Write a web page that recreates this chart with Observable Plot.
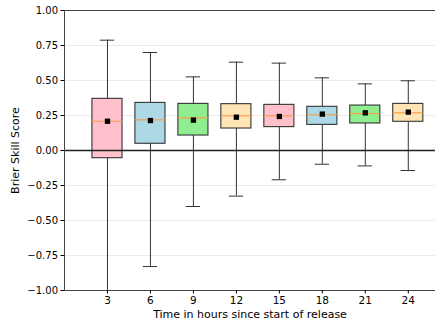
<!DOCTYPE html>
<html>
<head>
<meta charset="utf-8">
<script src="https://cdn.jsdelivr.net/npm/d3@7"></script>
<script src="https://cdn.jsdelivr.net/npm/@observablehq/plot@0.6"></script>
<style>
  html, body { margin: 0; padding: 0; background: #fff; }
</style>
</head>
<body>
<div id="chart"></div>
<script>
const hours   = [3, 6, 9, 12, 15, 18, 21, 24];
const whiskLo = [-1.00, -0.829, -0.40, -0.326, -0.209, -0.098, -0.11, -0.143];
const q1      = [-0.055, 0.048, 0.107, 0.157, 0.167, 0.183, 0.193, 0.205];
const medians = [0.209, 0.219, 0.233, 0.248, 0.248, 0.255, 0.264, 0.269];
const q3      = [0.369, 0.340, 0.333, 0.331, 0.326, 0.312, 0.321, 0.333];
const whiskHi = [0.788, 0.70, 0.526, 0.631, 0.624, 0.519, 0.476, 0.498];
const means   = [0.209, 0.214, 0.217, 0.238, 0.243, 0.260, 0.269, 0.274];
const boxColors = ["#ffc0cb", "#add8e6", "#90ee90", "#ffe4b5", "#ffc0cb", "#add8e6", "#90ee90", "#ffe4b5"];
const yTicks = [-1, -0.75, -0.5, -0.25, 0, 0.25, 0.5, 0.75, 1];

const halfBox = 1.05, halfCap = 0.5;
const data = hours.map((h, i) => ({
  h, lo: whiskLo[i], q1: q1[i], med: medians[i], q3: q3[i], hi: whiskHi[i], mean: means[i], color: boxColors[i],
  x1: h - halfBox, x2: h + halfBox, c1: h - halfCap, c2: h + halfCap
}));

const fmt = d => (d < 0 ? "\u2212" : "") + Math.abs(d).toFixed(2);

const chart = Plot.plot({
  width: 435,
  height: 324,
  marginLeft: 64,
  marginRight: 0,
  marginTop: 10,
  marginBottom: 34,
  style: { fontFamily: "DejaVu Sans", fontSize: "10px", color: "#000", background: "#fff" },
  x: { domain: [0, 25.9], ticks: hours, label: null },
  y: { domain: [-1, 1], ticks: yTicks, label: null },
  marks: [
    Plot.ruleY(yTicks.filter(d => d !== 0 && d !== 1 && d !== -1), { stroke: "#e6e6e6", strokeWidth: 0.8 }),
    Plot.ruleX(data, { x: "h", y1: "lo", y2: "hi", stroke: "#333", strokeWidth: 1 }),
    Plot.ruleY(data, { y: "lo", x1: "c1", x2: "c2", stroke: "#333", strokeWidth: 1 }),
    Plot.ruleY(data, { y: "hi", x1: "c1", x2: "c2", stroke: "#333", strokeWidth: 1 }),
    Plot.rect(data, { x1: "x1", x2: "x2", y1: "q1", y2: "q3", fill: "color", stroke: "#333", strokeWidth: 1.1 }),
    Plot.ruleY(data, { y: "med", x1: "x1", x2: "x2", stroke: "#f5a050", strokeWidth: 1.2 }),
    Plot.ruleY([0], { stroke: "#222", strokeWidth: 1.5 }),
    Plot.dot(data, { x: "h", y: "mean", symbol: "square", fill: "#000", stroke: "none", r: 3 }),
    Plot.ruleY([1], { stroke: "#444", strokeWidth: 1 }),
    Plot.ruleY([-1], { stroke: "#444", strokeWidth: 1 }),
    Plot.ruleX([0], { stroke: "#444", strokeWidth: 1 }),
    Plot.axisY({ ticks: yTicks, tickFormat: fmt, tickSize: 3.5, tickPadding: 3, label: null, fontSize: 10 }),
    Plot.axisX({ ticks: hours, tickSize: 3.5, tickPadding: 3, label: null, fontSize: 10.5 }),
    Plot.axisY({ ticks: [], label: "Brier Skill Score", labelAnchor: "center", labelArrow: "none", labelOffset: 53, fontSize: 11 }),
    Plot.axisX({ ticks: [], label: "Time in hours since start of release", labelAnchor: "center", labelArrow: "none", labelOffset: 27, fontSize: 11 })
  ]
});
document.getElementById("chart").appendChild(chart);
</script>
</body>
</html>
